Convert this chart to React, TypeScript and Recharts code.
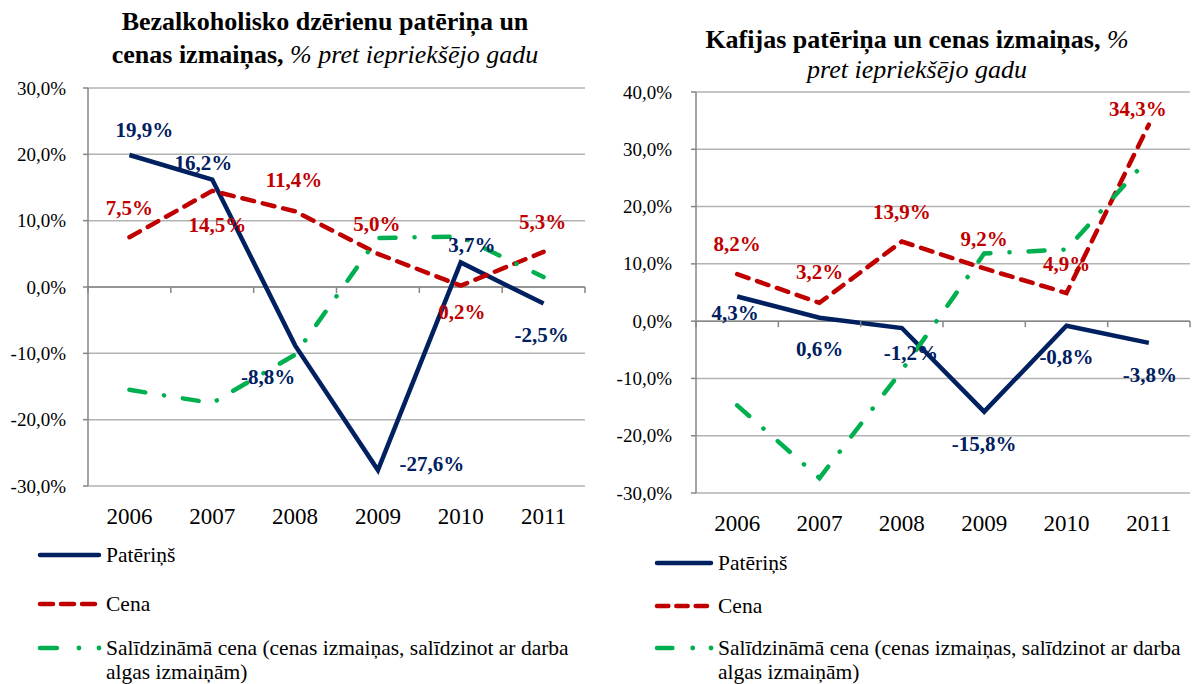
import React from 'react';
import { LineChart, Line, XAxis, YAxis, CartesianGrid, LabelList, ReferenceLine } from 'recharts';

// ---------- DATA ----------
const years = ['2006', '2007', '2008', '2009', '2010', '2011'];

const softConsumption = [19.9, 16.2, -8.8, -27.6, 3.7, -2.5];
const softPrice = [7.5, 14.5, 11.4, 5.0, 0.2, 5.3];
const softRelPrice = [-15.5, -17.5, -10.2, 7.4, 7.6, 1.5];

const coffeeConsumption = [4.3, 0.6, -1.2, -15.8, -0.8, -3.8];
const coffeePrice = [8.2, 3.2, 13.9, 9.2, 4.9, 34.3];
const coffeeRelPrice = [-14.7, -27.4, -8.6, 11.8, 12.5, 28.5];

const softTicks = [-30, -20, -10, 0, 10, 20, 30];
const coffeeTicks = [-30, -20, -10, 0, 10, 20, 30, 40];

const seriesNames = ['Patēriņš', 'Cena', 'Salīdzināmā cena (cenas izmaiņas, salīdzinot ar darba', 'algas izmaiņām)'];

// ---------- STYLE ----------
const FONT = '"Liberation Serif", "Times New Roman", serif';
const NAVY = '#002060';
const RED = '#c00000';
const GREEN = '#00b050';
const GRID = '#b3b3b3';
const AXIS = '#868686';
const REL_DASH = '16 19 0.1 19';
const PRICE_DASH = '12 9';

// label offsets (dx, dy) from the data point to the label centre
const softConsLabelOff = [[15, -25], [-9, -17], [-27, 32], [54, -6], [11, -17], [-2, 31]];
const softPriceLabelOff = [[0, -29], [5, 34], [-1, -31], [-1, -30], [1, 26], [-1, -30]];
const coffeeConsLabelOff = [[-2, 16], [0, 31], [9, 25], [0, 32], [0, 31], [1, 32]];
const coffeePriceLabelOff = [[0, -30], [0, -31], [0, -30], [0, -29], [0, -29], [-11, -16]];

const fmt = (v: number) => `${v.toFixed(1).replace('.', ',')}%`;

const makeLabel = (offsets: number[][], color: string) => (props: any) => {
  const { x, y, value, index } = props;
  if (value === undefined || value === null) return null;
  const off = offsets[index] || [0, -25];
  return (
    <text
      x={x + off[0]}
      y={y + off[1]}
      textAnchor="middle"
      dominantBaseline="central"
      fontFamily={FONT}
      fontWeight="bold"
      fontSize={21}
      fill={color}
    >
      {fmt(Number(value))}
    </text>
  );
};

const makeXTick = (zeroY: number, band: number, count: number) => (props: any) => {
  const { x, y, payload, index } = props;
  return (
    <g>
      <line x1={x - band / 2} x2={x - band / 2} y1={zeroY} y2={zeroY + 6} stroke={AXIS} strokeWidth={1.5} />
      {index === count - 1 ? (
        <line x1={x + band / 2} x2={x + band / 2} y1={zeroY} y2={zeroY + 6} stroke={AXIS} strokeWidth={1.5} />
      ) : null}
      <text x={x} y={y + 30} textAnchor="middle" dominantBaseline="central" fontFamily={FONT} fontSize={23} fill="#000">
        {payload.value}
      </text>
    </g>
  );
};

const makeYTick = () => (props: any) => {
  const { x, y, payload } = props;
  return (
    <text x={x} y={y} textAnchor="end" dominantBaseline="central" fontFamily={FONT} fontSize={19} fill="#000">
      {fmt(Number(payload.value))}
    </text>
  );
};

interface PanelProps {
  left: number;
  width: number;
  height: number;
  margin: { top: number; right: number; bottom: number; left: number };
  yWidth: number;
  domain: [number, number];
  ticks: number[];
  tickMargin: number;
  cons: number[];
  price: number[];
  rel: number[];
  consOff: number[][];
  priceOff: number[][];
}

const Panel = (p: PanelProps) => {
  const data = years.map((yr, i) => ({ year: yr, cons: p.cons[i], price: p.price[i], rel: p.rel[i] }));
  const xAxisH = 30;
  const plotTop = p.margin.top;
  const plotH = p.height - p.margin.top - p.margin.bottom - xAxisH;
  const zeroY = plotTop + (plotH * p.domain[1]) / (p.domain[1] - p.domain[0]);
  const plotW = p.width - p.margin.left - p.margin.right - p.yWidth;
  const band = plotW / years.length;
  return (
    <div style={{ position: 'absolute', left: p.left, top: 0 }}>
      <LineChart width={p.width} height={p.height} data={data} margin={p.margin}>
        <CartesianGrid vertical={false} stroke={GRID} strokeWidth={1.5} />
        <XAxis
          dataKey="year"
          height={xAxisH}
          axisLine={false}
          tickLine={false}
          tickSize={0}
          tickMargin={0}
          interval={0}
          padding={{ left: band / 2, right: band / 2 }}
          tick={makeXTick(zeroY, band, years.length)}
        />
        <YAxis
          width={p.yWidth}
          type="number"
          domain={p.domain}
          ticks={p.ticks}
          interval={0}
          allowDataOverflow
          axisLine={{ stroke: AXIS, strokeWidth: 1.5 }}
          tickLine={{ stroke: AXIS, strokeWidth: 1.5 }}
          tickSize={5}
          tickMargin={p.tickMargin}
          tick={makeYTick()}
        />
        <ReferenceLine y={0} stroke={AXIS} strokeWidth={1.5} />
        <Line
          type="linear"
          dataKey="cons"
          stroke={NAVY}
          strokeWidth={4.5}
          dot={false}
          isAnimationActive={false}
        >
          <LabelList dataKey="cons" content={makeLabel(p.consOff, NAVY)} />
        </Line>
        <Line
          type="linear"
          dataKey="price"
          stroke={RED}
          strokeWidth={4.5}
          strokeDasharray={PRICE_DASH}
          strokeLinecap="round"
          dot={false}
          isAnimationActive={false}
        >
          <LabelList dataKey="price" content={makeLabel(p.priceOff, RED)} />
        </Line>
        <Line
          type="linear"
          dataKey="rel"
          stroke={GREEN}
          strokeWidth={4.5}
          strokeDasharray={REL_DASH}
          strokeLinecap="round"
          dot={false}
          isAnimationActive={false}
        />
      </LineChart>
    </div>
  );
};

const LegendBlock = ({ left, lineX0, lineX1, textX, ys }: { left: number; lineX0: number; lineX1: number; textX: number; ys: number[] }) => {
  const textStyle: React.CSSProperties = {
    position: 'absolute',
    left: textX,
    fontFamily: FONT,
    fontSize: 21.5,
    lineHeight: '24px',
    height: 24,
    color: '#000',
    whiteSpace: 'nowrap',
  };
  const w = lineX1 - lineX0;
  return (
    <div style={{ position: 'absolute', left, top: 0 }}>
      <svg style={{ position: 'absolute', left: 0, top: 0 }} width={textX} height={684}>
        <line x1={lineX0 + 2} x2={lineX1 - 2} y1={ys[0]} y2={ys[0]} stroke={NAVY} strokeWidth={4.5} strokeLinecap="round" />
        <line x1={lineX0 + 2} x2={lineX1 - 2} y1={ys[1]} y2={ys[1]} stroke={RED} strokeWidth={4.5} strokeLinecap="round" strokeDasharray={`${w / 3 - 8} 8`} />
        <line x1={lineX0 + 2} x2={lineX0 + w * 0.3} y1={ys[2]} y2={ys[2]} stroke={GREEN} strokeWidth={4.5} strokeLinecap="round" />
        <circle cx={lineX0 + w * 0.65} cy={ys[2]} r={2.4} fill={GREEN} />
        <circle cx={lineX1 - 2} cy={ys[2]} r={2.4} fill={GREEN} />
      </svg>
      <div style={{ ...textStyle, top: ys[0] - 12 }}>{seriesNames[0]}</div>
      <div style={{ ...textStyle, top: ys[1] - 12 }}>{seriesNames[1]}</div>
      <div style={{ ...textStyle, top: ys[2] - 12 }}>{seriesNames[2]}</div>
      <div style={{ ...textStyle, top: ys[2] + 12 }}>{seriesNames[3]}</div>
    </div>
  );
};

const titleStyle: React.CSSProperties = {
  position: 'absolute',
  fontFamily: FONT,
  fontSize: 26,
  fontWeight: 'bold',
  textAlign: 'center',
  whiteSpace: 'nowrap',
  color: '#000',
  lineHeight: '30px',
};

export default function App() {
  return (
    <div style={{ position: 'absolute', left: 0, top: 0, width: 1192, height: 684, background: '#fff', overflow: 'hidden' }}>
      <Panel
        left={0}
        width={600}
        height={684}
        margin={{ top: 88, right: 15, bottom: 168, left: 0 }}
        yWidth={88}
        domain={[-30, 30]}
        ticks={softTicks}
        tickMargin={17}
        cons={softConsumption}
        price={softPrice}
        rel={softRelPrice}
        consOff={softConsLabelOff}
        priceOff={softPriceLabelOff}
      />
      <Panel
        left={600}
        width={592}
        height={684}
        margin={{ top: 92, right: 2, bottom: 161, left: 0 }}
        yWidth={96}
        domain={[-30, 40]}
        ticks={coffeeTicks}
        tickMargin={19}
        cons={coffeeConsumption}
        price={coffeePrice}
        rel={coffeeRelPrice}
        consOff={coffeeConsLabelOff}
        priceOff={coffeePriceLabelOff}
      />

      <div style={{ ...titleStyle, left: 25, width: 600, top: 7 }}>Bezalkoholisko dzērienu patēriņa un</div>
      <div style={{ ...titleStyle, left: 25, width: 600, top: 40 }}>
        cenas izmaiņas, <span style={{ fontWeight: 'normal', fontStyle: 'italic' }}>% pret iepriekšējo gadu</span>
      </div>
      <div style={{ ...titleStyle, left: 617, width: 600, top: 25 }}>
        Kafijas patēriņa un cenas izmaiņas, <span style={{ fontWeight: 'normal', fontStyle: 'italic' }}>%</span>
      </div>
      <div style={{ ...titleStyle, left: 617, width: 600, top: 55, fontWeight: 'normal', fontStyle: 'italic' }}>
        pret iepriekšējo gadu
      </div>

      <LegendBlock left={0} lineX0={38} lineX1={101} textX={106} ys={[555, 604, 648]} />
      <LegendBlock left={615} lineX0={40} lineX1={98} textX={103} ys={[563, 606, 648]} />
    </div>
  );
}
